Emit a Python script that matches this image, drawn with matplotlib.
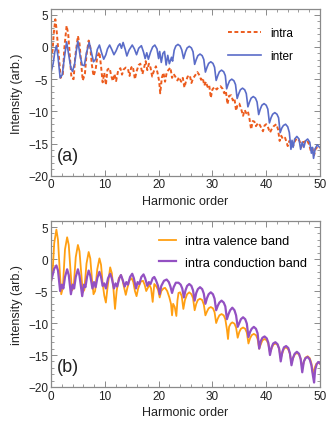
import matplotlib
matplotlib.use("Agg")
import matplotlib.pyplot as plt
from matplotlib.ticker import MultipleLocator

plt.rcParams['font.family'] = ['Liberation Sans', 'DejaVu Sans']

# ---------------- panel (a) data ----------------
inter_x = [0, 0.4, 0.7, 1.0, 1.3, 1.7, 2.1, 2.4, 2.9, 3.3, 3.7, 4.0, 4.4, 4.7, 5.0, 5.4, 5.8, 6.2, 6.6, 7.1,
           7.5, 7.9, 8.3, 8.6, 9.0, 9.4, 9.8, 10.2, 10.5, 10.9, 11.3, 11.7, 12.1, 12.5, 12.8, 13.1, 13.4, 13.8,
           14.1, 14.5, 15.1, 15.5, 15.9, 16.3, 16.8, 17.2, 17.5, 17.8, 18.1, 18.5, 18.9, 19.3, 19.7, 20.0, 20.2,
           20.5, 20.8, 21.1, 21.4, 21.7, 22.0, 22.4, 22.6, 22.9, 23.2, 23.6, 24.0, 24.3, 24.65, 25.0, 25.3, 25.7,
           26.1, 26.4, 26.7, 27.0, 27.3, 27.7, 28.1, 28.4, 28.7, 29.0, 29.3, 29.7, 30.1, 30.4, 30.7, 31.0, 31.3,
           31.7, 32.1, 32.4, 32.65, 32.9, 33.2, 33.6, 34.0, 34.3, 34.6, 34.9, 35.2, 35.6, 36.0, 36.3, 36.6, 36.9,
           37.2, 37.6, 38.0, 38.3, 38.6, 38.9, 39.2, 39.6, 40.0, 40.3, 40.6, 40.9, 41.2, 41.6, 42.0, 42.3, 42.6,
           42.9, 43.2, 43.6, 44.0, 44.3, 44.6, 44.8, 45.0, 45.3, 45.7, 46.1, 46.4, 46.7, 47.0, 47.3, 47.7, 48.1,
           48.4, 48.6, 48.8, 49.1, 49.5, 49.8, 50]
inter_y = [-4.0, -2.6, -0.8, 0.2, -1.5, -4.8, -4.3, -2.2, 0.8, -1.2, -3.3, -3.8, -2.6, -0.6, 0.9, -1.3, -2.8, -2.9,
           -0.9, 0.7, -0.8, -2.3, -1.9, -0.4, 0.3, -0.9, -1.9, -1.2, -0.3, 0.3, -0.4, -1.2, -0.6, 0.2, 0.5, -0.2,
           0.7, -0.4, -1.4, -0.5, 0.3, -0.3, -1.2, -0.2, 0.2, -0.8, -1.8, -0.9, -1.9, -0.8, 0.0, 0.3, -0.3, -1.8,
           -0.7, -2.4, -1.0, -0.7, -2.8, -1.3, -2.6, -1.6, -2.2, -0.5, 0.15, 0.4, 0.15, -0.45, -1.8, -0.75, -0.15,
           0.1, -0.15, -0.75, -2.7, -1.95, -1.35, -1.1, -1.35, -1.95, -3.9, -3.15, -2.55, -2.3, -2.55, -3.15, -5.2,
           -4.45, -3.85, -3.6, -3.85, -4.45, -6.5, -5.85, -5.25, -5.0, -5.25, -5.85, -8.0, -7.25, -6.65, -6.4,
           -6.65, -7.25, -9.3, -8.55, -7.95, -7.7, -7.95, -8.55, -10.5, -9.65, -9.05, -8.8, -9.05, -9.65, -11.8,
           -11.0, -10.45, -10.2, -10.45, -11.0, -13.3, -12.6, -12.2, -12.0, -12.4, -13.3, -15.9, -14.5, -15.6,
           -14.3, -13.9, -14.3, -15.9, -14.8, -15.6, -14.6, -14.3, -14.8, -16.5, -15.6, -17.3, -15.8, -15.2,
           -15.5, -15.6]

intra_x = [0, 0.3, 0.5, 0.8, 1.0, 1.2, 1.5, 1.8, 2.2, 2.5, 2.9, 3.2, 3.5, 3.8, 4.2, 4.5, 5.0, 5.3, 5.6, 5.9,
           6.3, 6.6, 7.0, 7.3, 7.6, 7.9, 8.3, 8.6, 9.0, 9.3, 9.6, 9.9, 10.2, 10.5, 10.9, 11.2, 11.5, 11.8, 12.1,
           12.5, 12.9, 13.2, 13.5, 13.9, 14.3, 14.6, 14.9, 15.2, 15.6, 15.9, 16.3, 16.6, 17.0, 17.3, 17.6, 17.9,
           18.2, 18.5, 18.8, 19.1, 19.5, 19.8, 20.1, 20.3, 20.6, 20.9, 21.2, 21.5, 21.8, 22.2, 22.5, 22.8, 23.1,
           23.5, 23.8, 24.2, 24.5, 24.8, 25.1, 25.4, 25.8, 26.1, 26.4, 26.8, 27.2, 27.6, 27.9, 28.2, 28.5, 28.8,
           29.1, 29.4, 29.7, 30.0, 30.4, 30.8, 31.1, 31.5, 31.9, 32.2, 32.5, 32.8, 33.1, 33.5, 33.8, 34.1, 34.4,
           34.7, 35.0, 35.3, 35.7, 36.0, 36.3, 36.6, 36.9, 37.2, 37.5, 37.8, 38.1, 38.5, 38.8, 39.1, 39.4, 39.7,
           40.0, 40.3, 40.7, 41.0, 41.4, 41.9, 42.2, 42.5, 42.8, 43.1, 43.5, 43.8, 44.0, 44.3, 44.7, 45.0, 45.4,
           45.8, 46.2, 46.5, 46.8, 47.2, 47.6, 48.0, 48.3, 48.6, 48.9, 49.2, 49.6, 50]
intra_y = [-1.9, -0.5, 2.0, 4.3, 3.0, 1.0, -2.0, -4.8, -4.2, 0.0, 3.3, 2.0, -1.5, -4.8, -5.0, -1.5, 1.7, 0.5,
           -2.5, -5.2, -4.2, -1.2, 1.0, 0.0, -2.8, -4.5, -3.5, -1.5, -0.8, -3.0, -5.5, -4.0, -5.9, -3.5, -3.3,
           -4.5, -5.3, -4.2, -5.3, -3.6, -3.3, -4.3, -3.5, -3.2, -3.4, -4.5, -3.2, -3.0, -5.0, -3.8, -2.8, -2.6,
           -4.2, -3.2, -2.2, -3.6, -2.6, -3.2, -4.6, -3.8, -3.0, -4.0, -5.3, -7.2, -4.8, -4.0, -5.4, -4.0, -3.6,
           -3.2, -4.8, -4.2, -4.6, -5.2, -4.7, -5.4, -4.8, -6.3, -5.3, -4.6, -4.4, -5.6, -4.9, -4.4, -3.9, -4.4,
           -5.1, -4.8, -6.0, -5.4, -6.2, -5.9, -7.9, -6.6, -6.2, -6.6, -6.3, -6.1, -6.5, -7.2, -6.8, -8.9, -7.6,
           -7.5, -8.3, -8.0, -9.9, -8.9, -8.8, -9.5, -10.7, -9.8, -10.3, -10.0, -11.2, -12.8, -11.5, -11.6, -12.3,
           -11.8, -12.1, -12.6, -13.1, -12.2, -12.0, -12.4, -13.3, -12.8, -12.3, -12.0, -12.8, -14.6, -13.8, -14.3,
           -14.1, -14.8, -15.4, -14.6, -14.8, -15.4, -14.5, -14.2, -14.6, -15.6, -14.8, -14.7, -14.5, -15.2, -16.2,
           -15.8, -16.8, -15.8, -15.5, -15.7]

# ---------------- panel (b) data ----------------
val_x = [0, 0.3, 0.6, 1.0, 1.3, 1.6, 1.9, 2.2, 2.6, 3.0, 3.3, 3.6, 3.9, 4.2, 4.6, 5.0, 5.3, 5.6, 5.9, 6.2, 6.6,
         7.0, 7.3, 7.6, 7.9, 8.2, 8.6, 9.0, 9.3, 9.6, 9.9, 10.2, 10.5, 11.0, 11.3, 11.6, 11.9, 12.2, 12.6, 13.0,
         13.3, 13.6, 13.9, 14.2, 14.6, 15.0, 15.3, 15.6, 15.9, 16.2, 16.7, 17.1, 17.4, 17.7, 18.0, 18.3, 18.6,
         18.9, 19.2, 19.6, 19.9, 20.2, 20.5, 20.9, 21.2, 21.6, 22.0, 22.3, 22.5, 22.7, 23.0, 23.3, 23.5, 23.7,
         24.0, 24.3, 24.6, 24.9, 25.3, 25.7, 26.1, 26.4, 26.7, 27.0, 27.3, 27.7, 28.1, 28.4, 28.7, 29.0, 29.3,
         29.7, 30.1, 30.4, 30.7, 31.0, 31.3, 31.7, 32.1, 32.4, 32.7, 32.9, 33.1, 33.4, 33.7, 34.1, 34.4, 34.7,
         35.0, 35.3, 35.7, 36.1, 36.4, 36.7, 37.0, 37.3, 37.7, 38.1, 38.4, 38.7, 39.0, 39.3, 39.7, 40.1, 40.4,
         40.7, 41.0, 41.3, 41.7, 42.1, 42.4, 42.7, 43.0, 43.3, 43.7, 44.1, 44.4, 44.7, 45.0, 45.3, 45.7, 46.1,
         46.4, 46.7, 47.0, 47.3, 47.7, 48.1, 48.4, 48.7, 49.0, 49.3, 49.7, 50]
val_y = [-3.6, -2.0, 2.5, 4.6, 3.0, -1.5, -5.5, -4.5, 1.5, 3.4, 2.2, -1.5, -4.9, -4.5, 0.3, 2.2, 1.2, -2.0, -5.2,
         -4.8, -0.7, 1.1, 0.1, -3.0, -5.5, -5.0, -1.6, 0.1, -0.9, -3.8, -5.7, -6.8, -4.5, -1.3, -2.2, -4.6, -7.8,
         -5.0, -3.0, -2.5, -3.3, -4.5, -5.6, -4.5, -3.3, -3.0, -3.6, -5.0, -5.8, -4.6, -3.5, -3.4, -4.0, -5.0,
         -4.5, -4.0, -4.6, -6.7, -3.9, -4.3, -4.8, -6.0, -5.0, -4.6, -4.5, -5.0, -6.0, -7.0, -8.8, -7.0, -7.5,
         -8.9, -6.5, -5.3, -5.2, -5.8, -7.8, -6.4, -5.5, -5.2, -5.5, -6.1, -8.0, -7.0, -6.4, -6.2, -6.4, -7.1,
         -8.8, -8.2, -7.7, -7.5, -7.7, -8.3, -10.0, -9.3, -8.8, -8.6, -8.8, -9.4, -11.0, -12.5, -10.6, -10.1,
         -9.9, -10.1, -10.7, -12.3, -11.4, -10.9, -10.7, -10.9, -11.5, -13.2, -12.4, -11.9, -11.7, -11.9, -12.5,
         -14.0, -13.3, -12.7, -12.5, -12.7, -13.3, -14.6, -14.0, -13.4, -13.2, -13.4, -14.0, -15.5, -14.7, -14.0,
         -13.8, -14.1, -14.8, -16.2, -15.5, -14.9, -14.7, -14.9, -15.6, -17.0, -16.1, -15.4, -15.2, -15.5, -16.3,
         -18.0, -17.0, -16.4, -16.2, -16.4]

cond_x = [0, 0.3, 0.6, 1.0, 1.3, 1.7, 2.0, 2.3, 2.6, 3.0, 3.3, 3.7, 4.0, 4.3, 4.6, 5.0, 5.3, 5.8, 6.1, 6.4, 6.7,
          7.0, 7.3, 7.7, 8.0, 8.3, 8.6, 9.0, 9.3, 9.6, 9.9, 10.2, 10.6, 11.0, 11.3, 11.7, 12.0, 12.3, 12.7, 13.0,
          13.3, 13.7, 14.0, 14.3, 14.7, 15.1, 15.4, 15.8, 16.1, 16.4, 16.8, 17.2, 17.5, 17.9, 18.2, 18.5, 18.9,
          19.2, 19.5, 19.9, 20.2, 20.5, 21.0, 21.5, 21.9, 22.2, 22.5, 22.8, 23.2, 23.7, 24.1, 24.4, 24.7, 25.0,
          25.3, 25.7, 26.1, 26.4, 26.7, 27.0, 27.3, 27.7, 28.1, 28.4, 28.7, 29.0, 29.3, 29.7, 30.1, 30.4, 30.7,
          31.0, 31.3, 31.7, 32.1, 32.4, 32.7, 33.0, 33.3, 33.7, 34.1, 34.4, 34.7, 35.0, 35.3, 35.7, 36.1, 36.4,
          36.7, 37.0, 37.3, 37.7, 38.1, 38.4, 38.7, 39.0, 39.3, 39.7, 40.1, 40.4, 40.7, 41.0, 41.3, 41.7, 42.1,
          42.4, 42.7, 43.0, 43.3, 43.7, 44.1, 44.4, 44.7, 45.0, 45.3, 45.7, 46.1, 46.4, 46.7, 47.0, 47.3, 47.7,
          48.1, 48.4, 48.7, 48.9, 49.1, 49.4, 49.7, 50]
cond_y = [-3.5, -2.5, -1.5, -1.0, -1.8, -5.0, -4.0, -4.6, -2.8, -1.6, -2.5, -5.5, -4.0, -4.6, -2.8, -1.6, -2.6,
          -5.8, -4.0, -4.4, -2.8, -1.8, -2.6, -4.6, -3.6, -4.4, -3.0, -2.0, -2.8, -4.2, -3.8, -4.6, -3.0, -2.3,
          -3.0, -4.6, -3.8, -4.3, -3.0, -2.5, -3.2, -4.3, -3.6, -4.0, -2.8, -2.3, -3.0, -4.6, -3.6, -3.9, -2.8,
          -2.4, -3.0, -4.2, -3.6, -3.9, -3.0, -2.8, -3.3, -4.2, -5.5, -4.2, -3.4, -3.2, -3.6, -4.3, -5.3, -4.4,
          -3.7, -3.7, -4.0, -4.6, -6.0, -4.9, -4.2, -3.9, -4.2, -4.9, -6.5, -5.3, -4.7, -4.4, -4.7, -5.4, -7.0,
          -6.1, -5.5, -5.2, -5.5, -6.2, -8.0, -7.3, -6.8, -6.5, -6.8, -7.4, -9.4, -8.6, -8.0, -7.6, -8.0, -8.8,
          -10.6, -10.0, -9.4, -9.1, -9.4, -10.1, -12.2, -11.4, -10.9, -10.6, -10.9, -11.6, -14.0, -12.8, -12.3,
          -12.1, -12.4, -13.1, -15.0, -13.8, -13.2, -13.0, -13.3, -14.0, -16.0, -14.5, -13.8, -13.6, -13.9, -14.7,
          -16.6, -15.4, -14.8, -14.5, -14.8, -15.6, -17.7, -16.0, -15.5, -15.3, -15.7, -16.6, -18.3, -19.3, -17.3,
          -16.4, -16.1, -16.3]

x_ticks = [0, 10, 20, 30, 40, 50]
y_ticks = [-20, -15, -10, -5, 0, 5]
y_tick_labels = ['\u221220', '\u221215', '\u221210', '\u22125', '0', '5']

FRAME = '#8a8a8a'
C_INTRA = '#ec5c1e'
C_INTER = '#5a6cc8'
C_VAL = '#ff9f12'
C_COND = '#9350c2'

W, H = 332, 427
fig = plt.figure(figsize=(W / 100, H / 100), dpi=100)
ax_a = fig.add_axes([51 / W, 1 - 176.7 / H, 269 / W, 166.7 / H])
ax_b = fig.add_axes([51 / W, 1 - 388 / H, 269 / W, 165.7 / H])


def style(ax, ylabel, tag):
    ax.set_xlim(0, 50)
    ax.set_ylim(-20, 5.9)
    ax.set_xticks(x_ticks)
    ax.set_yticks(y_ticks)
    ax.set_yticklabels(y_tick_labels)
    ax.xaxis.set_minor_locator(MultipleLocator(2))
    ax.yaxis.set_minor_locator(MultipleLocator(1))
    ax.tick_params(which='both', direction='in', top=True, right=True, colors=FRAME,
                   labelcolor='#222222', labelsize=8.5, pad=2)
    ax.tick_params(which='major', length=4, width=0.7)
    ax.tick_params(which='minor', length=2.2, width=0.6)
    for s in ax.spines.values():
        s.set_color(FRAME)
        s.set_linewidth(0.9)
    ax.set_xlabel('Harmonic order', fontsize=9, color='#222222', labelpad=3)
    ax.set_ylabel(ylabel, fontsize=9, color='#222222', labelpad=4)
    ax.text(0.022, 0.07, tag, transform=ax.transAxes, fontsize=13, color='#222222',
            ha='left', va='bottom')


ax_a.plot(intra_x, intra_y, color=C_INTRA, lw=1.4, linestyle=(0, (2.0, 1.3)), label='intra')
ax_a.plot(inter_x, inter_y, color=C_INTER, lw=1.2, label='inter')
style(ax_a, 'Intensity (arb.)', '(a)')
ax_a.legend(loc='upper right', bbox_to_anchor=(0.93, 0.94), frameon=False, fontsize=8.5,
            handlelength=2.8, handletextpad=0.8, labelspacing=0.95, borderaxespad=0.3)

ax_b.plot(val_x, val_y, color=C_VAL, lw=1.3, label='intra valence band')
ax_b.plot(cond_x, cond_y, color=C_COND, lw=1.6, label='intra conduction band')
style(ax_b, 'intensity (arb.)', '(b)')
ax_b.legend(loc='upper right', bbox_to_anchor=(0.985, 0.97), frameon=False, fontsize=9.2,
            handlelength=1.3, handletextpad=0.7, labelspacing=0.75, borderaxespad=0.3)

fig.savefig('out.png', dpi=100)
